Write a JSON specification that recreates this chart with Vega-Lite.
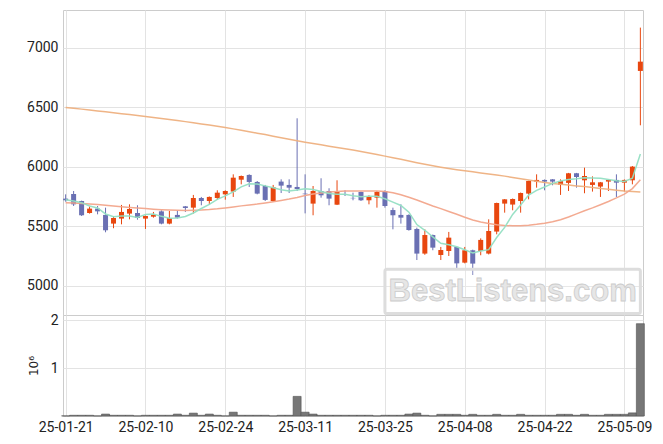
{
"$schema":"https://vega.github.io/schema/vega-lite/v6.json",
"padding":{"left":26,"top":9,"right":10,"bottom":10},
"background":"white",
"spacing":0,
"bounds":"flush",
"config":{"view":{"stroke":"#cccccc","strokeWidth":1},
"axis":{"labelFont":"Roboto","labelFontSize":14,"labelColor":"#222222","ticks":false,"domain":false,"gridColor":"#e3e3e3","gridWidth":1,"titleFont":"DejaVu Sans","titleFontSize":12,"titleFontWeight":"normal","titleColor":"#222222"}},
"data":{"values":[
{"d":"25-01-21","o":5734,"h":5770,"l":5708,"c":5720,"v":3000,"m5":5725,"m20":5700,"ml":6500},
{"d":"25-01-22","o":5773,"h":5798,"l":5672,"c":5686,"v":15000,"m5":5714,"m20":5697,"ml":6493},
{"d":"25-01-23","o":5714,"h":5717,"l":5588,"c":5594,"v":15000,"m5":5700,"m20":5693,"ml":6486},
{"d":"25-01-24","o":5613,"h":5667,"l":5608,"c":5650,"v":15000,"m5":5672,"m20":5689,"ml":6479},
{"d":"25-01-31","o":5650,"h":5672,"l":5602,"c":5627,"v":3000,"m5":5655,"m20":5684,"ml":6471},
{"d":"25-02-03","o":5597,"h":5658,"l":5451,"c":5468,"v":40000,"m5":5605,"m20":5678,"ml":6463},
{"d":"25-02-04","o":5524,"h":5588,"l":5485,"c":5571,"v":15000,"m5":5582,"m20":5672,"ml":6455},
{"d":"25-02-05","o":5566,"h":5681,"l":5518,"c":5622,"v":15000,"m5":5588,"m20":5666,"ml":6447},
{"d":"25-02-06","o":5608,"h":5686,"l":5560,"c":5647,"v":15000,"m5":5587,"m20":5660,"ml":6440},
{"d":"25-02-07","o":5613,"h":5678,"l":5557,"c":5571,"v":3000,"m5":5576,"m20":5655,"ml":6432},
{"d":"25-02-10","o":5566,"h":5592,"l":5479,"c":5588,"v":15000,"m5":5600,"m20":5650,"ml":6424},
{"d":"25-02-11","o":5582,"h":5622,"l":5574,"c":5597,"v":15000,"m5":5605,"m20":5645,"ml":6416},
{"d":"25-02-12","o":5627,"h":5636,"l":5518,"c":5524,"v":15000,"m5":5585,"m20":5641,"ml":6408},
{"d":"25-02-13","o":5524,"h":5630,"l":5518,"c":5571,"v":15000,"m5":5570,"m20":5638,"ml":6399},
{"d":"25-02-14","o":5597,"h":5636,"l":5566,"c":5574,"v":40000,"m5":5571,"m20":5636,"ml":6390},
{"d":"25-02-17","o":5669,"h":5672,"l":5622,"c":5655,"v":15000,"m5":5584,"m20":5635,"ml":6381},
{"d":"25-02-18","o":5658,"h":5765,"l":5608,"c":5739,"v":60000,"m5":5613,"m20":5636,"ml":6372},
{"d":"25-02-19","o":5739,"h":5748,"l":5678,"c":5714,"v":15000,"m5":5651,"m20":5638,"ml":6362},
{"d":"25-02-20","o":5714,"h":5752,"l":5686,"c":5748,"v":40000,"m5":5686,"m20":5642,"ml":6352},
{"d":"25-02-21","o":5739,"h":5804,"l":5723,"c":5784,"v":15000,"m5":5728,"m20":5648,"ml":6342},
{"d":"25-02-24","o":5770,"h":5804,"l":5725,"c":5798,"v":3000,"m5":5757,"m20":5656,"ml":6331},
{"d":"25-02-25","o":5793,"h":5938,"l":5748,"c":5910,"v":80000,"m5":5791,"m20":5664,"ml":6320},
{"d":"25-02-26","o":5893,"h":5928,"l":5854,"c":5924,"v":15000,"m5":5833,"m20":5673,"ml":6308},
{"d":"25-02-27","o":5933,"h":5938,"l":5832,"c":5874,"v":15000,"m5":5858,"m20":5681,"ml":6296},
{"d":"25-02-28","o":5874,"h":5882,"l":5770,"c":5776,"v":15000,"m5":5856,"m20":5688,"ml":6284},
{"d":"25-03-04","o":5840,"h":5849,"l":5714,"c":5723,"v":15000,"m5":5841,"m20":5697,"ml":6272},
{"d":"25-03-05","o":5714,"h":5849,"l":5708,"c":5829,"v":3000,"m5":5825,"m20":5707,"ml":6259},
{"d":"25-03-06","o":5877,"h":5896,"l":5781,"c":5843,"v":15000,"m5":5809,"m20":5718,"ml":6246},
{"d":"25-03-07","o":5849,"h":5896,"l":5781,"c":5826,"v":15000,"m5":5799,"m20":5730,"ml":6233},
{"d":"25-03-10","o":5832,"h":6409,"l":5798,"c":5815,"v":410000,"m5":5807,"m20":5744,"ml":6220},
{"d":"25-03-11","o":5776,"h":5938,"l":5610,"c":5771,"v":80000,"m5":5817,"m20":5760,"ml":6208},
{"d":"25-03-12","o":5692,"h":5840,"l":5594,"c":5798,"v":40000,"m5":5811,"m20":5772,"ml":6197},
{"d":"25-03-13","o":5798,"h":5905,"l":5742,"c":5762,"v":15000,"m5":5794,"m20":5781,"ml":6186},
{"d":"25-03-14","o":5798,"h":5821,"l":5678,"c":5734,"v":15000,"m5":5776,"m20":5789,"ml":6175},
{"d":"25-03-17","o":5683,"h":5888,"l":5680,"c":5790,"v":15000,"m5":5771,"m20":5794,"ml":6164},
{"d":"25-03-18","o":5773,"h":5804,"l":5756,"c":5768,"v":15000,"m5":5770,"m20":5797,"ml":6153},
{"d":"25-03-19","o":5740,"h":5784,"l":5720,"c":5737,"v":15000,"m5":5758,"m20":5798,"ml":6142},
{"d":"25-03-20","o":5790,"h":5793,"l":5714,"c":5720,"v":15000,"m5":5750,"m20":5799,"ml":6130},
{"d":"25-03-21","o":5720,"h":5762,"l":5686,"c":5748,"v":15000,"m5":5753,"m20":5799,"ml":6117},
{"d":"25-03-24","o":5742,"h":5798,"l":5658,"c":5790,"v":3000,"m5":5753,"m20":5798,"ml":6104},
{"d":"25-03-25","o":5798,"h":5804,"l":5658,"c":5672,"v":15000,"m5":5733,"m20":5794,"ml":6091},
{"d":"25-03-26","o":5638,"h":5658,"l":5476,"c":5594,"v":15000,"m5":5705,"m20":5783,"ml":6078},
{"d":"25-03-27","o":5597,"h":5686,"l":5524,"c":5574,"v":15000,"m5":5676,"m20":5766,"ml":6064},
{"d":"25-03-28","o":5597,"h":5602,"l":5465,"c":5470,"v":40000,"m5":5620,"m20":5745,"ml":6050},
{"d":"25-03-31","o":5479,"h":5490,"l":5218,"c":5272,"v":60000,"m5":5516,"m20":5722,"ml":6036},
{"d":"25-04-01","o":5272,"h":5476,"l":5262,"c":5428,"v":15000,"m5":5468,"m20":5697,"ml":6023},
{"d":"25-04-02","o":5428,"h":5432,"l":5300,"c":5322,"v":3000,"m5":5413,"m20":5672,"ml":6010},
{"d":"25-04-03","o":5260,"h":5328,"l":5218,"c":5302,"v":35000,"m5":5359,"m20":5650,"ml":5998},
{"d":"25-04-04","o":5294,"h":5454,"l":5252,"c":5406,"v":35000,"m5":5346,"m20":5626,"ml":5987},
{"d":"25-04-07","o":5328,"h":5330,"l":5140,"c":5190,"v":35000,"m5":5330,"m20":5603,"ml":5977},
{"d":"25-04-08","o":5196,"h":5328,"l":5190,"c":5300,"v":15000,"m5":5304,"m20":5578,"ml":5968},
{"d":"25-04-09","o":5300,"h":5305,"l":5092,"c":5188,"v":35000,"m5":5277,"m20":5555,"ml":5959},
{"d":"25-04-10","o":5294,"h":5400,"l":5258,"c":5387,"v":15000,"m5":5294,"m20":5537,"ml":5950},
{"d":"25-04-11","o":5272,"h":5560,"l":5265,"c":5462,"v":15000,"m5":5305,"m20":5524,"ml":5941},
{"d":"25-04-14","o":5457,"h":5700,"l":5434,"c":5697,"v":35000,"m5":5407,"m20":5514,"ml":5932},
{"d":"25-04-15","o":5692,"h":5730,"l":5616,"c":5728,"v":15000,"m5":5492,"m20":5508,"ml":5923},
{"d":"25-04-16","o":5684,"h":5735,"l":5636,"c":5731,"v":15000,"m5":5601,"m20":5506,"ml":5912},
{"d":"25-04-17","o":5714,"h":5785,"l":5616,"c":5781,"v":35000,"m5":5680,"m20":5507,"ml":5901},
{"d":"25-04-18","o":5776,"h":5885,"l":5728,"c":5882,"v":15000,"m5":5764,"m20":5511,"ml":5890},
{"d":"25-04-21","o":5877,"h":5938,"l":5826,"c":5891,"v":15000,"m5":5803,"m20":5518,"ml":5879},
{"d":"25-04-22","o":5891,"h":5895,"l":5804,"c":5877,"v":15000,"m5":5832,"m20":5527,"ml":5869},
{"d":"25-04-23","o":5896,"h":5898,"l":5846,"c":5877,"v":15000,"m5":5862,"m20":5540,"ml":5862},
{"d":"25-04-24","o":5849,"h":5896,"l":5765,"c":5882,"v":35000,"m5":5882,"m20":5556,"ml":5855},
{"d":"25-04-25","o":5866,"h":5950,"l":5798,"c":5947,"v":35000,"m5":5895,"m20":5580,"ml":5848},
{"d":"25-04-28","o":5947,"h":5950,"l":5826,"c":5916,"v":15000,"m5":5900,"m20":5606,"ml":5841},
{"d":"25-04-29","o":5888,"h":5994,"l":5779,"c":5924,"v":35000,"m5":5909,"m20":5632,"ml":5835},
{"d":"25-04-30","o":5849,"h":5921,"l":5793,"c":5871,"v":15000,"m5":5908,"m20":5656,"ml":5828},
{"d":"25-05-02","o":5835,"h":5874,"l":5748,"c":5871,"v":15000,"m5":5906,"m20":5683,"ml":5820},
{"d":"25-05-07","o":5877,"h":5895,"l":5798,"c":5891,"v":35000,"m5":5895,"m20":5710,"ml":5812},
{"d":"25-05-08","o":5891,"h":5938,"l":5748,"c":5868,"v":35000,"m5":5885,"m20":5740,"ml":5805},
{"d":"25-05-09","o":5868,"h":5895,"l":5793,"c":5891,"v":35000,"m5":5878,"m20":5772,"ml":5798},
{"d":"25-05-12","o":5888,"h":6008,"l":5854,"c":6003,"v":65000,"m5":5905,"m20":5818,"ml":5794},
{"d":"25-05-13","o":6807,"h":7171,"l":6350,"c":6885,"v":1930000,"m5":6108,"m20":5893,"ml":5790}
]},
"vconcat":[
{"width":580,"height":305,
"encoding":{"x":{"field":"d","type":"ordinal","sort":null,"scale":{"type":"point","padding":0.33},"axis":{"orient":"top","values":["25-01-21","25-02-10","25-02-24","25-03-11","25-03-25","25-04-08","25-04-22","25-05-09"],"labels":false,"grid":true,"title":null}}},
"layer":[
{"mark":{"type":"rule","strokeWidth":1},
"encoding":{"y":{"field":"l","type":"quantitative","scale":{"domain":[4756,7319],"nice":false,"zero":false},"axis":{"values":[5000,5500,6000,6500,7000],"format":"d","title":null,"labelPadding":5,"grid":true}},"y2":{"field":"h"},
"color":{"condition":{"test":"datum.c >= datum.o","value":"#e8470f"},"value":"#6a70b3"}}},
{"mark":{"type":"bar","size":5},
"encoding":{"y":{"field":"o","type":"quantitative"},"y2":{"field":"c"},
"color":{"condition":{"test":"datum.c >= datum.o","value":"#e8470f"},"value":"#6a70b3"}}},
{"mark":{"type":"line","strokeWidth":1.5,"color":"#eeb07f","opacity":0.95},"encoding":{"y":{"field":"ml","type":"quantitative"}}},
{"mark":{"type":"line","strokeWidth":1.5,"color":"#f2a58b","opacity":0.95},"encoding":{"y":{"field":"m20","type":"quantitative"}}},
{"mark":{"type":"line","strokeWidth":1.5,"color":"#93dfc3","opacity":0.95},"encoding":{"y":{"field":"m5","type":"quantitative"}}},
{"data":{"values":[{"label":"BestListens.com"}]},
"mark":{"type":"rect","fill":"#ffffff","fillOpacity":0.2,"stroke":"#dddddd","strokeWidth":3,"cornerRadius":2},
"encoding":{"x":{"datum":"25-03-25"},"x2":{"datum":"25-05-13"},"y":{"datum":4768},"y2":{"datum":5140}}},
{"data":{"values":[{"label":"BestListens.com"}]},
"mark":{"type":"text","font":"Liberation Sans","fontSize":31,"fontWeight":"bold","fill":"#e6e6e6","stroke":"#cccccc","strokeWidth":0.8,"align":"center","baseline":"middle"},
"encoding":{"x":{"datum":"25-04-16"},"y":{"datum":4952},"text":{"field":"label","type":"nominal"}}}
]},
{"width":580,"height":101,
"mark":{"type":"bar","size":8,"fill":"#777777","stroke":"#505050","strokeWidth":0.6},
"encoding":{"x":{"field":"d","type":"ordinal","sort":null,"scale":{"type":"point","padding":0.33},"axis":{"values":["25-01-21","25-02-10","25-02-24","25-03-11","25-03-25","25-04-08","25-04-22","25-05-09"],"labelPadding":4,"labelAngle":0,"grid":true,"title":null}},
"y":{"field":"v","type":"quantitative","scale":{"domain":[0,2111000],"nice":false},"axis":{"values":[1000000,2000000],"labelExpr":"datum.value / 1000000","title":"10⁶","titlePadding":10,"labelPadding":5,"grid":true}}}}
]
}
